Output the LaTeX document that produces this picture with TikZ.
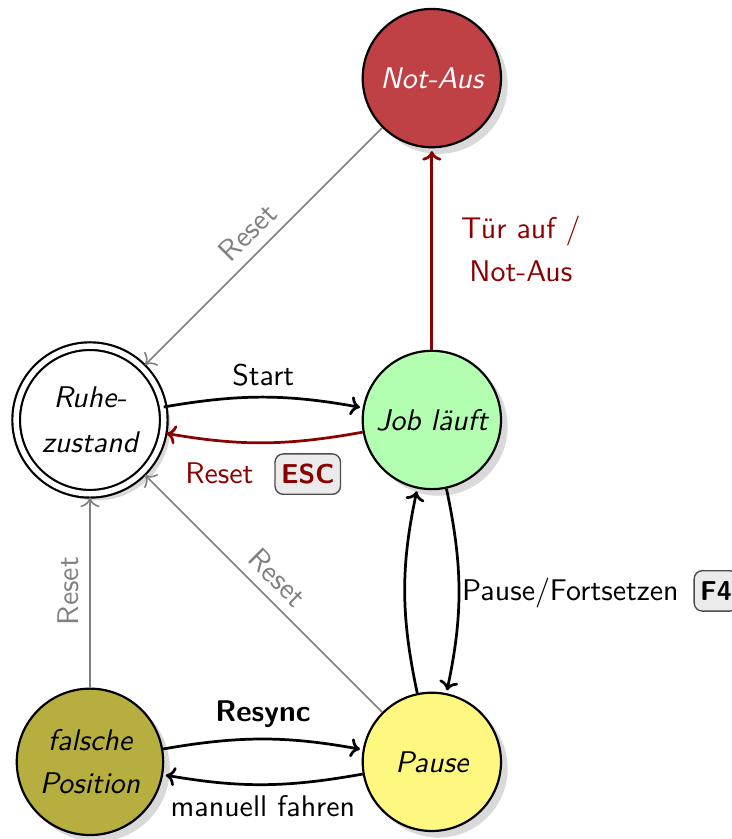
\documentclass[11pt,tikz,border=0pt]{standalone}
\usepackage{tikz}
\usetikzlibrary{automata, positioning, arrows, arrows.meta, shadows}
\usepackage{xcolor}
\renewcommand{\familydefault}{\sfdefault}

\definecolor{notaus}{RGB}{191,64,69}
\definecolor{dunkelrot}{RGB}{139,0,0}

% Tastenkappe fuer die Tastenkuerzel
\newcommand{\taste}[1]{\tikz[baseline=(t.base)]\node[-, draw=black!70, fill=black!8, line width=0.5pt, rounded corners=3pt, inner xsep=2.2pt, minimum height=0.52cm, font=\small\bfseries] (t) {#1};}

\begin{document}
\begin{tikzpicture}[->,>={To[length=3.5pt,width=7pt]},shorten >=1pt,auto,node distance=4.4cm,line width=1pt,
      every state/.style={thick, fill=white, minimum size=1.78cm, drop shadow={opacity=.3}, font=\itshape, align=center},
      accepting/.style={double, double distance=2pt, minimum size=1.9cm},
      zurueck/.style={gray, semithick}]
      \useasboundingbox (-1.158,-5.393) rectangle (8.263,5.405);

      \node[state, accepting] (ruhe) {Ruhe-\\[3pt]zustand};
      \node[state, fill=green!30] (job) [right of=ruhe] {Job läuft};
      \node[state, fill=notaus, text=white] (notaus) [above of=job] {Not-Aus};
      \node[state, fill=yellow!50] (pause) [below of=job] {Pause};
      \node[state, fill=olive!65] (falsch) [below of=ruhe] {falsche\\[2pt]Position};

      \path (ruhe) edge [bend left=10] node {Start} (job)
            (job) edge [bend left=10, dunkelrot] node {Reset\hspace{0.7em}\taste{ESC}} (ruhe)
            (job) edge [dunkelrot] node [swap, text width=2cm, align=center] {Tür auf /\\[2pt]Not-Aus} (notaus)
            (notaus) edge [zurueck] node [sloped] {Reset} (ruhe)
            (pause) edge [zurueck] node [sloped] {Reset} (ruhe)
            (falsch) edge [zurueck] node [sloped] {Reset} (ruhe)
            (job) edge [bend left=12] node [inner xsep=1pt] {Pause/Fortsetzen\hspace{0.5em}\taste{F4}} (pause)
            (pause) edge [bend left=12] (job)
            (falsch) edge [bend left=10] node {\bfseries Resync} (pause)
            (pause) edge [bend left=10] node {manuell fahren} (falsch)
            ;
\end{tikzpicture}
\end{document}
